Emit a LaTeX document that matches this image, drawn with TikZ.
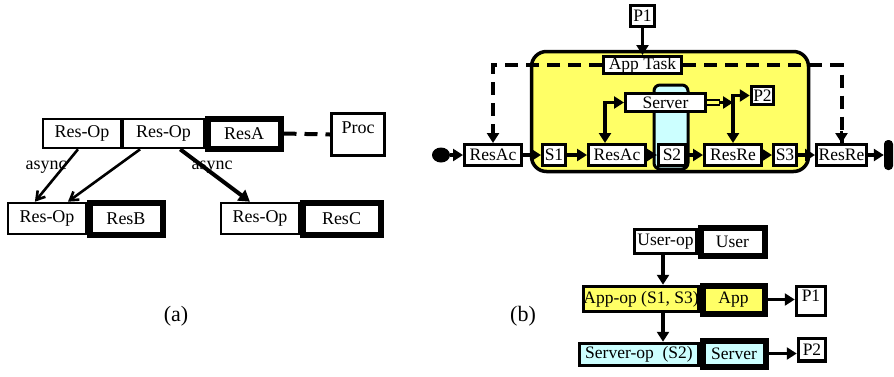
\documentclass[tikz,border=0pt]{standalone}
\usepackage{fontspec}
\setmainfont{Liberation Serif}
\usetikzlibrary{arrows.meta,calc,shapes.geometric}
\definecolor{appyellow}{RGB}{255,255,102}
\definecolor{srvcyan}{RGB}{204,255,255}

\begin{document}
\begin{tikzpicture}[x=1pt,y=-1pt,
  fa/.style={font=\fontsize{18}{18}\selectfont},
  fb/.style={font=\fontsize{17.5}{17.5}\selectfont},
  fcap/.style={font=\fontsize{22}{22}\selectfont},
  opbox/.style={draw, line width=2.6pt, fill=white, inner sep=0pt, fa},
  resbox/.style={draw, line width=6pt, fill=white, inner sep=0pt, fa},
  bbox/.style={draw, line width=3pt, fill=white, inner sep=0pt, fb},
  tbox/.style={draw, line width=6pt, fill=white, inner sep=0pt, fb},
  conn/.style={line width=3.6pt, -{Triangle[length=10pt,width=12pt]}},
  thinarr/.style={line width=2.6pt, -{Straight Barb[length=8pt,width=10pt,line width=2.6pt]}},
  dashconn/.style={line width=4pt, dash pattern=on 13pt off 8pt},
]
\useasboundingbox (0,0) rectangle (894,376);

% ---------- (a) ----------
\node[opbox, minimum width=78pt, minimum height=29pt] (ra1) at (82,133.5) {Res-Op};
\node[opbox, minimum width=81pt, minimum height=29pt] (ra2) at (163.5,133.5) {Res-Op};
\node[resbox, minimum width=73pt, minimum height=30pt] (resA) at (244,133.5) {ResA};
\node[opbox, line width=3pt, minimum width=53pt, minimum height=42pt, text depth=14pt] (proc) at (358,134.5) {Proc};

\node[opbox, minimum width=78pt, minimum height=31pt] (rb1) at (47,218.5) {Res-Op};
\node[resbox, minimum width=73pt, minimum height=32pt] (resB) at (126,218.5) {ResB};
\node[opbox, minimum width=78pt, minimum height=31pt] (rc1) at (260,218.5) {Res-Op};
\node[resbox, minimum width=78pt, minimum height=32pt] (resC) at (341.5,218.5) {ResC};

\node[fa, inner sep=0pt] (lblL) at (46,167) {async};
\node[fa, inner sep=0pt] (lblR) at (212,167) {async};

\draw[thinarr] ($(ra1.south west)!0.45!(ra1.south east)$) -- ($(rb1.north west)!0.35!(rb1.north east)$);
\draw[thinarr] ($(ra2.south west)!0.22!(ra2.south east)$) -- ($(rb1.north west)!0.76!(rb1.north east)$);
\draw[line width=4pt, -{Triangle[length=11pt,width=13pt]}] ($(ra2.south west)!0.70!(ra2.south east)$) -- ($(rc1.north west)!0.375!(rc1.north east)$);
\draw[dashconn] (resA.east) -- (proc.west);

\node[fcap, inner sep=0pt] (capA) at (176,316) {(a)};

% ---------- (b) top ----------
\node[draw, line width=3.5pt, fill=appyellow, rounded corners=15pt, minimum width=277pt, minimum height=120pt] (apparea) at (670,111.5) {};
\node[draw, line width=3pt, fill=srvcyan, rounded corners=6pt, minimum width=34pt, minimum height=84pt] (srvarea) at (671,127) {};

\node[bbox, line width=3.5pt, minimum width=24pt, minimum height=21pt] (p1) at (642.5,16) {P1};
\node[bbox, minimum width=78pt, minimum height=17pt] (apptask) at (642.5,65) {App Task};
\node[bbox, minimum width=80pt, minimum height=18pt] (server) at (665.5,102.5) {Server};
\node[bbox, line width=3.5pt, minimum width=22pt, minimum height=18pt] (p2) at (762.5,95.5) {P2};

\node[fill=black, ellipse, minimum width=18pt, minimum height=15pt, inner sep=0pt] (start) at (441,155) {};
\node[bbox, minimum width=57pt, minimum height=21pt] (resac1) at (493,155) {ResAc};
\node[bbox, minimum width=23pt, minimum height=21pt] (s1) at (554,155) {S1};
\node[bbox, minimum width=57pt, minimum height=21pt] (resac2) at (617,155) {ResAc};
\node[bbox, minimum width=27pt, minimum height=21pt] (s2) at (672,155) {S2};
\node[bbox, minimum width=57pt, minimum height=21pt] (resre1) at (733,155) {ResRe};
\node[bbox, minimum width=23pt, minimum height=21pt] (s3) at (785,155) {S3};
\node[bbox, minimum width=50pt, minimum height=21pt] (resre2) at (841.5,155) {ResRe};
\node[fill=black, rounded corners=4pt, minimum width=9pt, minimum height=30pt, inner sep=0pt] (stop) at (888.5,155) {};

\draw[conn] (p1.south) -- (apptask.north);
\draw[dashconn] (apptask.west) -| (resac1.north);
\draw[dashconn] (apptask.east) -| (resre2.north);
% arrow heads at the ends of the dashed links
\draw[conn] ($(resac1.north)+(0,-12)$) -- (resac1.north);
\draw[conn] ($(resre2.north)+(0,-12)$) -- (resre2.north);

\foreach \a/\b in {start/resac1, resac1/s1, s1/resac2, resac2/s2, s2/resre1, resre1/s3, s3/resre2, resre2/stop}
  \draw[conn] (\a.east) -- (\b.west);

\coordinate (tapL) at ($(resac2.north west)!0.3!(resac2.north east)$);
\draw[line width=3.6pt, {Triangle[length=10pt,width=12pt]}-{Triangle[length=10pt,width=12pt]}] (tapL) |- (server.west);

\coordinate (junc) at (resre1.north |- server.east);
\draw[line width=2pt, double=appyellow, double distance=3pt] (server.east) -- ($(junc)+(-13,0)$);
\draw[conn] ($(junc)+(-14,0)$) -- (junc);
\draw[conn] (junc) -- (resre1.north);
\draw[conn] (junc) |- (p2.west);

\node[fcap, inner sep=0pt] (capB) at (523,316) {(b)};

% ---------- (b) bottom ----------
\node[bbox, minimum width=62.5pt, minimum height=24.5pt] (userop) at (665.5,241.5) {User-op};
\node[tbox, minimum width=64pt, minimum height=28pt] (user) at (732.5,241.5) {User};
\node[bbox, fill=appyellow, minimum width=115pt, minimum height=25.5pt] (appop) at (641,299) {App-op (S1, S3)};
\node[tbox, fill=appyellow, minimum width=62pt, minimum height=28pt] (app) at (733.5,299.5) {App};
\node[bbox, line width=3.5pt, minimum width=29pt, minimum height=29pt, text depth=10pt] (p1b) at (811,301) {P1};
\node[bbox, fill=srvcyan, minimum width=119.5pt, minimum height=22.5pt] (serverop) at (639,354.5) {Server-op~~(S2)};
\node[tbox, fill=srvcyan, minimum width=63pt, minimum height=26pt] (serverb) at (734,353.5) {Server};
\node[bbox, line width=3.5pt, minimum width=27pt, minimum height=22.5pt] (p2b) at (812,349.5) {P2};

\coordinate (vx) at (663,0);
\draw[conn] (userop.south -| vx) -- (appop.north -| vx);
\draw[conn] (appop.south -| vx) -- (serverop.north -| vx);
\draw[conn] (app.east) -- (app.east -| p1b.west);
\draw[conn] (serverb.east) -- (serverb.east -| p2b.west);
\end{tikzpicture}
\end{document}
